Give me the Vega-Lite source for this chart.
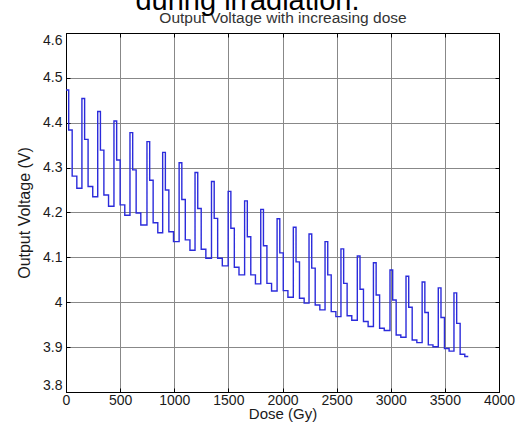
{
  "$schema": "https://vega.github.io/schema/vega-lite/v6.json",
  "width": 433,
  "height": 359,
  "autosize": {"type": "none"},
  "padding": {"left": 66, "top": 33, "right": 18, "bottom": 40},
  "background": "white",
  "title": {
    "text": "during irradiation.",
    "font": "Liberation Sans",
    "fontSize": 29,
    "fontWeight": "normal",
    "color": "black",
    "anchor": "middle",
    "frame": "group",
    "dx": -35,
    "offset": -5
  },
  "config": {
    "view": {"stroke": "black", "strokeWidth": 1},
    "axis": {
      "labelFont": "Liberation Sans",
      "titleFont": "Liberation Sans",
      "labelColor": "#1a1a1a",
      "titleColor": "#1a1a1a",
      "titleFontWeight": "normal",
      "domainColor": "black",
      "tickColor": "black",
      "tickSize": -4,
      "gridColor": "#888888",
      "gridWidth": 1,
      "gridOpacity": 1
    }
  },
  "data": {
    "values": [
      {"dose": 0, "voltage": 4.473}, {"dose": 25, "voltage": 4.384}, {"dose": 57, "voltage": 4.281}, {"dose": 100, "voltage": 4.254},
      {"dose": 147, "voltage": 4.454}, {"dose": 172, "voltage": 4.363}, {"dose": 204, "voltage": 4.258}, {"dose": 247, "voltage": 4.235},
      {"dose": 293, "voltage": 4.425}, {"dose": 318, "voltage": 4.339}, {"dose": 350, "voltage": 4.239}, {"dose": 393, "voltage": 4.214},
      {"dose": 443, "voltage": 4.404}, {"dose": 468, "voltage": 4.317}, {"dose": 500, "voltage": 4.217}, {"dose": 543, "voltage": 4.194},
      {"dose": 591, "voltage": 4.378}, {"dose": 616, "voltage": 4.295}, {"dose": 648, "voltage": 4.199}, {"dose": 691, "voltage": 4.172},
      {"dose": 748, "voltage": 4.358}, {"dose": 773, "voltage": 4.272}, {"dose": 805, "voltage": 4.177}, {"dose": 848, "voltage": 4.155},
      {"dose": 893, "voltage": 4.334}, {"dose": 918, "voltage": 4.250}, {"dose": 950, "voltage": 4.157}, {"dose": 993, "voltage": 4.135},
      {"dose": 1045, "voltage": 4.311}, {"dose": 1070, "voltage": 4.229}, {"dose": 1102, "voltage": 4.139}, {"dose": 1145, "voltage": 4.116},
      {"dose": 1192, "voltage": 4.289}, {"dose": 1217, "voltage": 4.209}, {"dose": 1249, "voltage": 4.118}, {"dose": 1292, "voltage": 4.098},
      {"dose": 1344, "voltage": 4.269}, {"dose": 1369, "voltage": 4.187}, {"dose": 1401, "voltage": 4.098}, {"dose": 1444, "voltage": 4.081},
      {"dose": 1498, "voltage": 4.247}, {"dose": 1523, "voltage": 4.165}, {"dose": 1555, "voltage": 4.078}, {"dose": 1598, "voltage": 4.061},
      {"dose": 1650, "voltage": 4.226}, {"dose": 1675, "voltage": 4.146}, {"dose": 1707, "voltage": 4.061}, {"dose": 1750, "voltage": 4.041},
      {"dose": 1799, "voltage": 4.207}, {"dose": 1824, "voltage": 4.126}, {"dose": 1856, "voltage": 4.042}, {"dose": 1899, "voltage": 4.025},
      {"dose": 1950, "voltage": 4.186}, {"dose": 1975, "voltage": 4.110}, {"dose": 2007, "voltage": 4.026}, {"dose": 2050, "voltage": 4.011},
      {"dose": 2100, "voltage": 4.167}, {"dose": 2125, "voltage": 4.090}, {"dose": 2157, "voltage": 4.009}, {"dose": 2200, "voltage": 3.998},
      {"dose": 2245, "voltage": 4.152}, {"dose": 2270, "voltage": 4.076}, {"dose": 2302, "voltage": 3.994}, {"dose": 2345, "voltage": 3.983},
      {"dose": 2393, "voltage": 4.135}, {"dose": 2418, "voltage": 4.061}, {"dose": 2450, "voltage": 3.979}, {"dose": 2493, "voltage": 3.968},
      {"dose": 2540, "voltage": 4.119}, {"dose": 2565, "voltage": 4.042}, {"dose": 2597, "voltage": 3.970}, {"dose": 2640, "voltage": 3.960},
      {"dose": 2691, "voltage": 4.103}, {"dose": 2716, "voltage": 4.029}, {"dose": 2748, "voltage": 3.957}, {"dose": 2791, "voltage": 3.946},
      {"dose": 2840, "voltage": 4.088}, {"dose": 2865, "voltage": 4.016}, {"dose": 2897, "voltage": 3.942}, {"dose": 2940, "voltage": 3.937},
      {"dose": 2993, "voltage": 4.072}, {"dose": 3018, "voltage": 4.005}, {"dose": 3050, "voltage": 3.927}, {"dose": 3093, "voltage": 3.922},
      {"dose": 3141, "voltage": 4.058}, {"dose": 3166, "voltage": 3.989}, {"dose": 3198, "voltage": 3.916}, {"dose": 3241, "voltage": 3.910},
      {"dose": 3290, "voltage": 4.045}, {"dose": 3315, "voltage": 3.977}, {"dose": 3347, "voltage": 3.905}, {"dose": 3390, "voltage": 3.901},
      {"dose": 3439, "voltage": 4.032}, {"dose": 3464, "voltage": 3.966}, {"dose": 3496, "voltage": 3.897}, {"dose": 3539, "voltage": 3.891},
      {"dose": 3584, "voltage": 4.021}, {"dose": 3609, "voltage": 3.953}, {"dose": 3641, "voltage": 3.884}, {"dose": 3684, "voltage": 3.879},
      {"dose": 3716, "voltage": 3.879}
    ]
  },
  "layer": [
    {
      "mark": {"type": "line", "interpolate": "step-after", "color": "#2b2bdb", "strokeWidth": 1.4},
      "encoding": {
        "x": {
          "field": "dose",
          "type": "quantitative",
          "scale": {"domain": [0, 4000], "nice": false, "zero": false},
          "axis": {
            "orient": "bottom",
            "values": [0, 500, 1000, 1500, 2000, 2500, 3000, 3500, 4000],
            "format": "d",
            "grid": true,
            "labelFontSize": 14,
            "labelPadding": 5,
            "labelFlush": false,
            "title": "Dose (Gy)",
            "titleFontSize": 15,
            "titlePadding": -1
          }
        },
        "y": {
          "field": "voltage",
          "type": "quantitative",
          "scale": {"domain": [3.8, 4.6], "nice": false, "zero": false},
          "axis": {
            "orient": "left",
            "values": [3.8, 3.9, 4.0, 4.1, 4.2, 4.3, 4.4, 4.5, 4.6],
            "format": ".1~f",
            "grid": true,
            "labelFontSize": 14,
            "labelPadding": 8,
            "labelFlush": true,
            "title": "Output Voltage (V)",
            "titleFontSize": 16,
            "titlePadding": 10
          }
        }
      }
    },
    {
      "mark": {"type": "line", "interpolate": "step-after", "opacity": 0},
      "encoding": {
        "x": {
          "field": "dose",
          "type": "quantitative",
          "axis": {
            "orient": "top",
            "values": [0, 500, 1000, 1500, 2000, 2500, 3000, 3500, 4000],
            "grid": false,
            "labels": false,
            "title": "Output Voltage with increasing dose",
            "titleFontSize": 15.5,
            "titleColor": "#333333",
            "titlePadding": 7
          }
        },
        "y": {
          "field": "voltage",
          "type": "quantitative",
          "axis": {
            "orient": "right",
            "values": [3.8, 3.9, 4.0, 4.1, 4.2, 4.3, 4.4, 4.5, 4.6],
            "grid": false,
            "labels": false,
            "title": null
          }
        }
      }
    }
  ],
  "resolve": {"axis": {"x": "independent", "y": "independent"}}
}
